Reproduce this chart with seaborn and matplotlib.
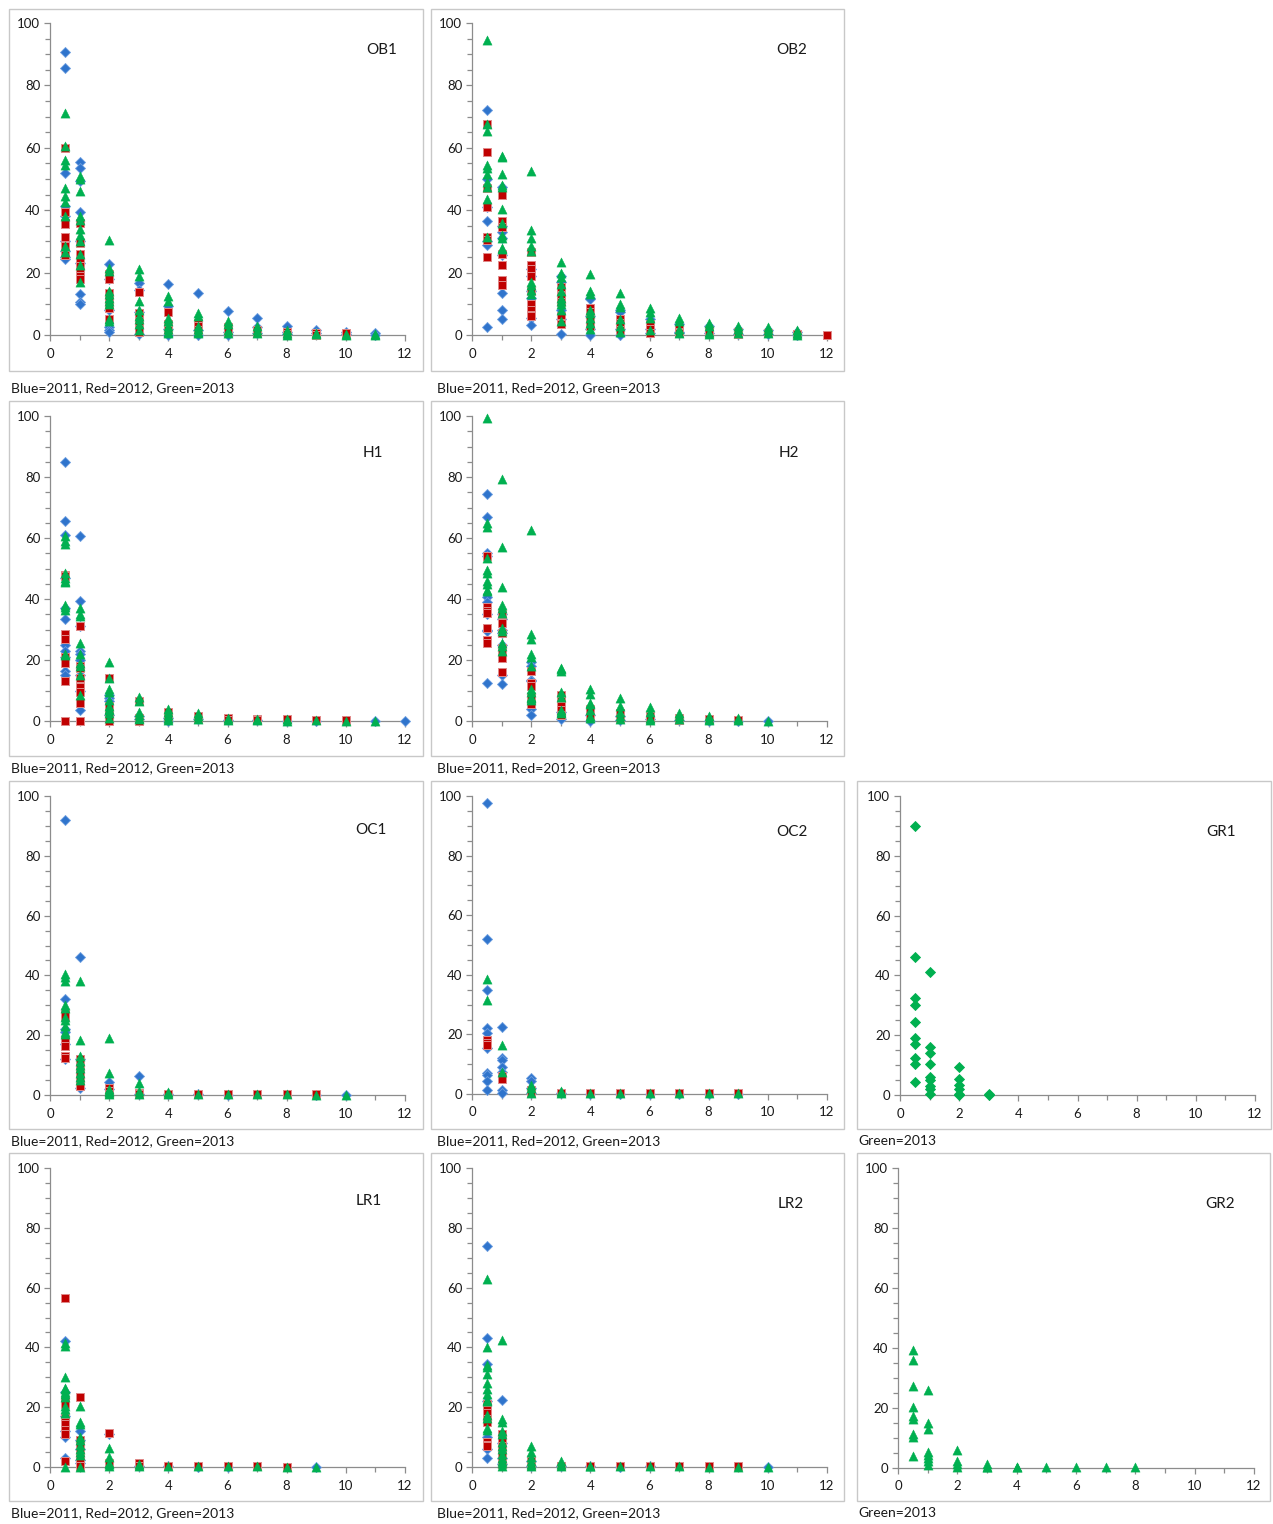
import matplotlib
matplotlib.use("Agg")
import matplotlib.pyplot as plt
from matplotlib.patches import Rectangle
from matplotlib.ticker import MultipleLocator
import pandas as pd
import seaborn as sns

sns.set_theme(style="white")
plt.rcParams["font.family"] = ["Lato", "DejaVu Sans"]

# ---------------------------------------------------------------------------
# Data: percentage values grouped by distance class (x), one dict per series
# ---------------------------------------------------------------------------
ob1_2011 = {0.5: [90.6, 85.6, 51.8, 41.5, 38, 30, 27, 25, 24.3],
            1: [55.6, 53.4, 49.5, 39.5, 30, 23, 13, 10.5, 10],
            2: [22.7, 18, 8, 2.5, 1.5, 1], 3: [16.8, 14.5, 7.5, 0.3],
            4: [16.2, 9.2, 2, 0], 5: [13.4, 1.5, 0], 6: [7.8, 1, 0],
            7: [5.3, 2.5, 0.5], 8: [2.8, 1, 0.3], 9: [1.5, 0.5],
            10: [1, 0.3], 11: [0.7, 0.1]}
ob1_2012 = {0.5: [60, 39.5, 36, 35.5, 31.5, 28.5, 26, 25.5],
            1: [36, 29.5, 26, 24, 22, 20, 19, 18],
            2: [19.5, 18, 13.5, 12, 10, 8.5, 5], 3: [13.8, 7, 6, 4.5, 2, 1],
            4: [7.5, 3.5, 1.5], 5: [4, 3, 1.5], 6: [2.5, 1], 7: [1.5, 0.5],
            8: [1, 0.3], 9: [0.8, 0], 10: [0.5]}
ob1_2013 = {0.5: [71.3, 60.5, 56, 54.5, 47, 44.5, 42.5, 38, 28.5, 26.5],
            1: [51, 50, 46, 38, 37, 34, 32, 30, 26, 22.5, 17],
            2: [30.5, 21.5, 20.5, 14, 13, 12, 11, 10, 5, 4.5],
            3: [21, 19, 11, 8, 6, 5, 3.5, 1.5],
            4: [12.5, 11, 5.5, 4.5, 3, 2, 1, 0.5],
            5: [7.2, 6, 3, 2, 1, 0.5], 6: [4.5, 3.5, 1.5, 0.5],
            7: [2.8, 1.5, 0.5], 8: [1.5, 0.5, 0], 9: [0.8, 0.2],
            10: [0.3, 0], 11: [0.2, 0]}

ob2_2011 = {0.5: [72, 50, 41, 36.5, 30, 29, 2.5],
            1: [47.5, 35, 33, 31, 25.5, 13.5, 8, 5],
            2: [21, 19, 14, 12, 5.5, 3.3], 3: [19, 17, 8, 5, 0.3],
            4: [12, 11.5, 6, 2, 0], 5: [8, 7.5, 2, 0], 6: [5, 2, 0.5],
            7: [3.5, 1, 0.5], 8: [3, 0.5], 9: [2, 0.3], 10: [1.5, 0.2],
            11: [1, 0]}
ob2_2012 = {0.5: [67.5, 58.5, 47, 41, 31.5, 30.5, 25],
            1: [45, 36.5, 34.5, 26, 22.5, 17.5, 16],
            2: [26.5, 22.3, 21, 19, 14, 10, 8, 6.5, 6],
            3: [15.5, 12.5, 10.5, 6, 4, 3.5], 4: [8.5, 7.5, 5, 3],
            5: [5, 4, 2.5, 1.5], 6: [3.5, 2, 0.5], 7: [2, 1, 0.5],
            8: [1.5, 0.5], 9: [1, 0.3], 10: [0.5], 11: [0.3], 12: [0]}
ob2_2013 = {0.5: [94.5, 67.5, 65.5, 54.5, 53.5, 51.5, 49, 47.5, 43.5, 31.5],
            1: [57.5, 57, 51.5, 48, 47.5, 40.5, 36, 32, 31, 28, 27.5],
            2: [52.5, 33.5, 31, 28.5, 27, 17, 16, 14.5, 13],
            3: [23.5, 20, 18.5, 16.5, 14, 12, 11, 10, 8, 4.5],
            4: [19.5, 14, 13, 8, 7, 5.5, 4, 2],
            5: [13.5, 10, 9, 5, 3, 1], 6: [8.5, 7.5, 5.5, 1.5],
            7: [5.5, 4.5, 2, 0.5], 8: [4, 3, 1, 0.3], 9: [3, 2, 0.5],
            10: [2.5, 1.5, 0.5], 11: [1.5, 0.5, 0]}

h1_2011 = {0.5: [85, 65.5, 61, 47, 37, 33.5, 25, 23, 21, 16.5, 15],
           1: [60.5, 39.5, 31, 23, 22, 20, 15, 10, 3.5],
           2: [8.5, 7.5, 6.5, 2], 3: [1.5, 0.5], 4: [1, 0], 5: [0.5],
           6: [0.3], 7: [0.2], 8: [0.1], 9: [0], 11: [0], 12: [0]}
h1_2012 = {0.5: [48, 47.5, 28.5, 27, 21, 19, 13, 0],
           1: [31, 18, 17.5, 14, 11, 9.5, 6, 0],
           2: [14, 5, 2.5, 0], 3: [6.5, 1, 0], 4: [3, 1, 0.5],
           5: [1.5, 0.5], 6: [1, 0.3], 7: [0.5, 0.2], 8: [0.5],
           9: [0.3], 10: [0.3]}
h1_2013 = {0.5: [60.5, 59, 58, 48.5, 47, 46, 45.5, 38, 37.5, 36.5, 22, 21.5],
           1: [37, 35, 34.5, 25.5, 22, 19, 18, 15, 8.5],
           2: [19.5, 14, 10.5, 9.5, 7, 5, 4, 3.5, 2.5, 1],
           3: [8, 6.5, 3, 2, 1, 0.5], 4: [4, 3, 2, 1, 0.3],
           5: [2.5, 1.5, 0.5], 6: [1, 0.3], 7: [0.5, 0.2], 8: [0.5, 0.1],
           9: [0.3], 10: [0.1], 11: [0]}

h2_2011 = {0.5: [74.5, 67, 55, 54, 40.5, 39, 35, 30, 29.5, 12.5],
           1: [35, 33.5, 30, 29, 25, 15, 12],
           2: [19.5, 18, 13.5, 13, 4, 2], 3: [3, 0.5], 4: [2, 0],
           5: [1.5, 0.3], 6: [0.5], 7: [0.3], 8: [0.1], 9: [0.1], 10: [0]}
h2_2012 = {0.5: [54, 37.5, 36, 35.5, 30.5, 26.5, 25.5],
           1: [35, 32, 29, 24, 22.5, 20.5, 16],
           2: [16.5, 12.5, 11.5, 8, 6, 5.5],
           3: [8.5, 7, 6.5, 5, 3.5, 2], 4: [4, 3, 1], 5: [2.5, 1],
           6: [1.5, 0.5], 7: [1, 0.3], 8: [0.5], 9: [0.3]}
h2_2013 = {0.5: [99.5, 65, 63.5, 53.5, 49.5, 48.5, 46, 45, 43, 42.5],
           1: [79.5, 57, 44, 38, 37, 35.5, 30.5, 29.5, 25.5, 24.5, 23],
           2: [62.5, 28.5, 27, 22, 21, 18, 10.5, 9.5, 8, 7.5, 7],
           3: [17.5, 17, 16.5, 9.5, 8, 3.5, 3, 2.5],
           4: [10.5, 9, 6, 5.5, 3.5, 1.5, 1],
           5: [7.5, 5, 3, 1.5, 0.5], 6: [4.5, 3, 1, 0.3],
           7: [2.5, 1.5, 0.5], 8: [1.5, 0.5, 0.2], 9: [1, 0.3], 10: [0]}

oc1_2011 = {0.5: [92, 32, 22, 21, 17, 12], 1: [46, 12, 2.5],
            2: [4.5, 2], 3: [6.2, 0.5], 4: [0.5], 5: [0.5], 6: [0.1],
            9: [0.1], 10: [0]}
oc1_2012 = {0.5: [27, 26.5, 18, 16.5, 13, 12.5],
            1: [12, 11, 9.5, 8, 6.5, 5, 3.5, 3], 2: [2.5, 1.5, 0.5],
            3: [0.8, 0.3], 4: [0.5], 5: [0.3], 6: [0.3], 7: [0.3],
            8: [0.3], 9: [0.2]}
oc1_2013 = {0.5: [40.5, 39.5, 38, 30, 29, 26, 25, 23, 21, 20.5],
            1: [38, 18.5, 13, 11.5, 10, 9, 7.5, 6, 5],
            2: [19, 7.5, 2, 1.5, 1, 0.5], 3: [4, 1.5, 0.5], 4: [1, 0.3],
            5: [0.5], 6: [0.3], 7: [0.2], 8: [0.2], 9: [0.1], 10: [0]}

oc2_2011 = {0.5: [97.5, 52, 35, 22, 20.5, 15.5, 7, 6.5, 4.5, 1.5],
            1: [22.5, 12, 11.5, 9, 7.5, 1.5, 0.3], 2: [5.5, 4.5, 2, 0.3],
            3: [0.5], 4: [0.1], 5: [0.1], 6: [0.1], 7: [0.1], 8: [0.1],
            9: [0.1]}
oc2_2012 = {0.5: [18, 17, 16.5], 1: [6, 5], 2: [1.5, 0.5], 3: [0.3],
            4: [0.2], 5: [0.2], 6: [0.2], 7: [0.2], 8: [0.2], 9: [0.2]}
oc2_2013 = {0.5: [38.5, 31.5], 1: [16.5, 7.5], 2: [3, 2, 0.5],
            3: [1, 0.3], 4: [0.2], 5: [0.2], 6: [0.2], 7: [0.2], 8: [0.2],
            9: [0.2]}

gr1_2013 = {0.5: [90, 46, 32.5, 30, 24.5, 19, 17, 12.5, 10.5, 4.5],
            1: [41, 16, 14, 10.5, 6, 5, 3, 2, 0.5],
            2: [9.5, 5.5, 3.5, 2, 0.5, 0], 3: [0.3, 0]}

lr1_2011 = {0.5: [42, 25, 17, 12, 10, 3], 1: [12, 9, 6, 2.5, 1.5],
            2: [11], 3: [0.5], 4: [0.2], 5: [0.1], 6: [0.1], 9: [0]}
lr1_2012 = {0.5: [56.5, 22, 21, 16.5, 15, 14.5, 12.5, 11, 2],
            1: [23.5, 9, 7.5, 5, 3, 0.5], 2: [11.5, 1.5], 3: [1.5, 0.5],
            4: [0.3], 5: [0.2], 6: [0.2], 7: [0.2], 8: [0.1]}
lr1_2013 = {0.5: [41.5, 40.5, 30, 26.5, 26, 25, 24.5, 23.5, 20.5, 19.5, 18, 0],
            1: [20.5, 15, 14.5, 10, 9, 7.5, 6, 5, 4, 0],
            2: [6.5, 3.5, 1.5, 1, 0.5], 3: [1, 0.3], 4: [0.5], 5: [0.3],
            6: [0.2], 7: [0.2], 8: [0.1], 9: [0]}

lr2_2011 = {0.5: [74, 43, 34.5, 22, 10, 6, 3], 1: [22.5, 8, 3, 1],
            2: [2, 0.5], 3: [0.3], 4: [0.2], 5: [0.1], 6: [0.3], 10: [0]}
lr2_2012 = {0.5: [21, 19, 18, 16, 15, 8.5, 7.5, 7],
            1: [11, 9, 7, 4, 2, 1], 2: [2, 1, 0.5], 3: [0.5], 4: [0.3],
            5: [0.3], 6: [0.2], 7: [0.2], 8: [0.2], 9: [0.2]}
lr2_2013 = {0.5: [63, 40, 34, 33.5, 31, 28, 26, 24.5, 22.5, 22, 17.5, 16.5,
                  13, 12.5],
            1: [42.5, 16, 15, 12, 11, 8.5, 7, 6, 4.5, 3, 2, 1.5, 0.5],
            2: [7, 5, 3.5, 2, 1, 0.5], 3: [2, 1, 0.3], 4: [0.5, 0.2],
            5: [0.2], 6: [0.2], 7: [0.2], 8: [0.1], 9: [0.1], 10: [0]}

gr2_2013 = {0.5: [39.5, 36, 27.5, 20.5, 17.5, 16.5, 11.5, 10.5, 4],
            1: [26, 15, 13, 5.5, 4.5, 3.5, 2.5, 1],
            2: [6, 2.5, 1.5, 0.5], 3: [1.5, 0.5, 0.2], 4: [0.5, 0.2],
            5: [0.3], 6: [0.3], 7: [0.3], 8: [0.3]}

site_names = ["OB1", "OB2", "H1", "H2", "OC1", "OC2", "GR1", "LR1", "LR2", "GR2"]
caption_three = "Blue=2011, Red=2012, Green=2013"
caption_green = "Green=2013"

# ---------------------------------------------------------------------------
# Styling
# ---------------------------------------------------------------------------
BLUE, RED, GREEN = "#2f74cc", "#c00000", "#00b050"
style_2011 = dict(marker="D", color=BLUE, edgecolor="#6d9ee0", s=26, linewidth=0.6)
style_2012 = dict(marker="s", color=RED, edgecolor="#e08a8a", s=32, linewidth=0.7)
style_2013 = dict(marker="^", color=GREEN, edgecolor=GREEN, s=44, linewidth=0.3)
style_2013_d = dict(marker="D", color=GREEN, edgecolor=GREEN, s=26, linewidth=0.6)

W, H = 1273, 1524
fig = plt.figure(figsize=(W / 100, H / 100), dpi=100)

# pixel geometry of each panel: plot area (x0, x12, y100, y0), frame box,
# caption position and site label position (in data units)
panels = [
    dict(name="OB1", series=[(ob1_2011, style_2011), (ob1_2012, style_2012), (ob1_2013, style_2013)],
         plot=(50, 405, 23, 335), box=(9, 9, 423, 371), cap=(11, 388, caption_three), lab=(11.2, 91.5)),
    dict(name="OB2", series=[(ob2_2011, style_2011), (ob2_2012, style_2012), (ob2_2013, style_2013)],
         plot=(472, 827, 23, 335), box=(431, 9, 844, 371), cap=(437, 388, caption_three), lab=(10.8, 91.3)),
    dict(name="H1", series=[(h1_2011, style_2011), (h1_2012, style_2012), (h1_2013, style_2013)],
         plot=(50, 405, 416, 721), box=(9, 401, 423, 756), cap=(11, 768, caption_three), lab=(10.9, 88.0)),
    dict(name="H2", series=[(h2_2011, style_2011), (h2_2012, style_2012), (h2_2013, style_2013)],
         plot=(472, 827, 416, 721), box=(431, 401, 844, 756), cap=(437, 768, caption_three), lab=(10.7, 88.0)),
    dict(name="OC1", series=[(oc1_2011, style_2011), (oc1_2012, style_2012), (oc1_2013, style_2013)],
         plot=(50, 405, 796, 1095), box=(9, 781, 423, 1129), cap=(11, 1141, caption_three), lab=(10.85, 88.6)),
    dict(name="OC2", series=[(oc2_2011, style_2011), (oc2_2012, style_2012), (oc2_2013, style_2013)],
         plot=(472, 827, 796, 1094), box=(431, 781, 844, 1129), cap=(437, 1141, caption_three), lab=(10.82, 87.9)),
    dict(name="GR1", series=[(gr1_2013, style_2013_d)],
         plot=(900, 1255, 796, 1095), box=(857, 781, 1271, 1129), cap=(858, 1141, caption_green), lab=(10.85, 88.0)),
    dict(name="LR1", series=[(lr1_2011, style_2011), (lr1_2012, style_2012), (lr1_2013, style_2013)],
         plot=(50, 405, 1168, 1467), box=(9, 1153, 423, 1501), cap=(11, 1513, caption_three), lab=(10.78, 89.0)),
    dict(name="LR2", series=[(lr2_2011, style_2011), (lr2_2012, style_2012), (lr2_2013, style_2013)],
         plot=(472, 827, 1168, 1467), box=(431, 1153, 844, 1501), cap=(437, 1513, caption_three), lab=(10.78, 88.0)),
    dict(name="GR2", series=[(gr2_2013, style_2013)],
         plot=(898, 1254, 1168, 1468), box=(857, 1153, 1270, 1501), cap=(858, 1513, caption_green), lab=(10.85, 88.0)),
]


def to_frame(groups):
    xs, ys = [], []
    for x, vals in groups.items():
        xs.extend([x] * len(vals))
        ys.extend(vals)
    return pd.DataFrame({"distance": xs, "percent": ys})


AXIS_GREY = "#8c8c8c"
for p in panels:
    # frame around the panel
    bx0, by0, bx1, by1 = p["box"]
    fig.patches.append(Rectangle((bx0 / W, 1 - by1 / H), (bx1 - bx0) / W, (by1 - by0) / H,
                                 transform=fig.transFigure, fill=False,
                                 edgecolor="#c8c8c8", linewidth=1.0))
    x0, x12, y100, y0 = p["plot"]
    ax = fig.add_axes([x0 / W, 1 - y0 / H, (x12 - x0) / W, (y0 - y100) / H])
    ax.set_facecolor("none")

    for z, (groups, st) in enumerate(p["series"]):
        df = to_frame(groups)
        sns.scatterplot(data=df, x="distance", y="percent", ax=ax, legend=False,
                        clip_on=False, zorder=3 + z, **st)

    ax.set_xlim(0, 12)
    ax.set_ylim(0, 100)
    ax.xaxis.set_major_locator(MultipleLocator(2))
    ax.xaxis.set_minor_locator(MultipleLocator(1))
    ax.yaxis.set_major_locator(MultipleLocator(20))
    ax.yaxis.set_minor_locator(MultipleLocator(5))
    for s in ("top", "right"):
        ax.spines[s].set_visible(False)
    for s in ("left", "bottom"):
        ax.spines[s].set_color(AXIS_GREY)
        ax.spines[s].set_linewidth(0.9)
        ax.spines[s].set_zorder(1)
    ax.tick_params(which="both", direction="out", color=AXIS_GREY, width=0.9,
                   left=True, bottom=True)
    ax.tick_params(which="major", length=4, labelsize=9.5, labelcolor="#1a1a1a", pad=3)
    ax.tick_params(which="minor", length=3.5)
    ax.tick_params(axis="x", which="major", pad=5)
    ax.set_xlabel("")
    ax.set_ylabel("")
    ax.grid(False)

    lx, ly = p["lab"]
    ax.text(lx, ly, p["name"], ha="center", va="center", fontsize=11, color="#1a1a1a")

    cx, cy, ctext = p["cap"]
    fig.text(cx / W, 1 - cy / H, ctext, ha="left", va="center", fontsize=10, color="#1a1a1a")

fig.savefig("out.png", dpi=100, facecolor="white")
